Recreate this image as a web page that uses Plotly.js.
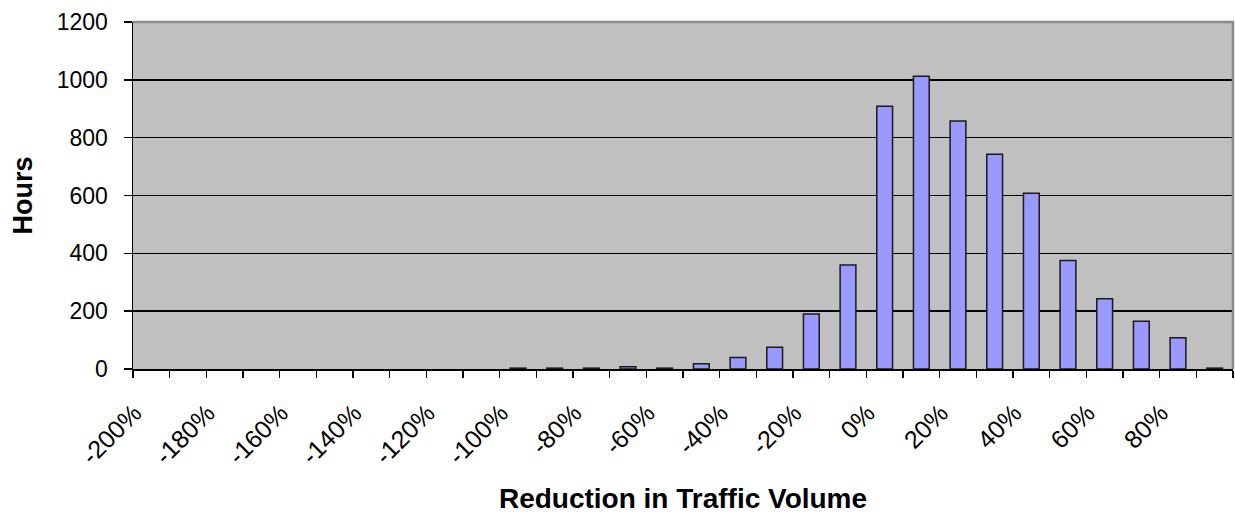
<!DOCTYPE html>
<html>
<head>
<meta charset="utf-8">
<script src="https://cdn.plot.ly/plotly-3.0.1.min.js"></script>
<style>html,body{margin:0;padding:0;background:#fff;}#chart{width:1235px;height:516px;}</style>
</head>
<body>
<div id="chart"></div>
<script>
// Reduction in traffic volume (%) bins
var categories = [-200,-190,-180,-170,-160,-150,-140,-130,-120,-110,-100,-90,-80,-70,-60,-50,-40,-30,-20,-10,0,10,20,30,40,50,60,70,80,90];
// Hours in each bin
var hours = [0,0,0,0,0,0,0,0,0,0,3,3,3,8,3,18,40,75,190,360,909,1012,858,743,608,375,243,165,108,3];
// Tick labels (every other bin)
var tickValues = [-200,-180,-160,-140,-120,-100,-80,-60,-40,-20,0,20,40,60,80];
var tickLabels = ["-200%","-180%","-160%","-140%","-120%","-100%","-80%","-60%","-40%","-20%","0%","20%","40%","60%","80%"];
var yTicks = [0,200,400,600,800,1000,1200];

var font = "'Liberation Sans', Arial, sans-serif";

var trace = {
  type: 'bar',
  x: categories,
  // empty bins are not drawn at all (no outline)
  y: hours.map(function (v) { return v > 0 ? v : null; }),
  width: 4.3,
  marker: {color: '#9999FF', line: {color: '#1a1a1a', width: 1.5}},
  hoverinfo: 'x+y'
};

var layout = {
  width: 1235, height: 516,
  margin: {l: 133, r: 2, t: 22, b: 147},
  paper_bgcolor: '#ffffff',
  plot_bgcolor: '#C0C0C0',
  showlegend: false,
  font: {family: font, color: '#000', size: 23},
  xaxis: {
    range: [-205, 95],
    tickmode: 'array',
    tickvals: tickValues,
    ticktext: tickLabels,
    tickangle: -45,
    ticks: '',
    ticklabelshift: -17,
    ticklabelstandoff: 18,
    tickfont: {family: font, size: 25, color: '#000'},
    showline: true, linecolor: '#000', linewidth: 1.5,
    showgrid: false, zeroline: false,
    minor: {tick0: -205, dtick: 10, ticks: 'outside', ticklen: 7, tickwidth: 1.5, tickcolor: '#000', showgrid: false},
    title: {text: 'Reduction in Traffic Volume', font: {family: font, size: 28, color: '#000', weight: 'bold'}, standoff: 20},
    automargin: false
  },
  yaxis: {
    range: [0, 1200],
    tickmode: 'array',
    tickvals: yTicks,
    ticks: 'outside', ticklen: 8, tickwidth: 1.5, tickcolor: '#000',
    ticklabelstandoff: 11,
    tickfont: {family: font, size: 23, color: '#000'},
    showline: true, linecolor: '#000', linewidth: 1.5,
    showgrid: true, gridcolor: '#000', gridwidth: 1.5,
    zeroline: false,
    title: {text: 'Hours', font: {family: font, size: 27, color: '#000', weight: 'bold'}, standoff: 16},
    automargin: false
  },
  shapes: [{
    type: 'path', xref: 'paper', yref: 'paper',
    path: 'M 0 1 L 1 1 L 1 0',
    line: {color: '#8a8a8a', width: 2.5},
    layer: 'above'
  }]
};

Plotly.newPlot('chart', [trace], layout, {displayModeBar: false, staticPlot: true});
</script>
</body>
</html>
